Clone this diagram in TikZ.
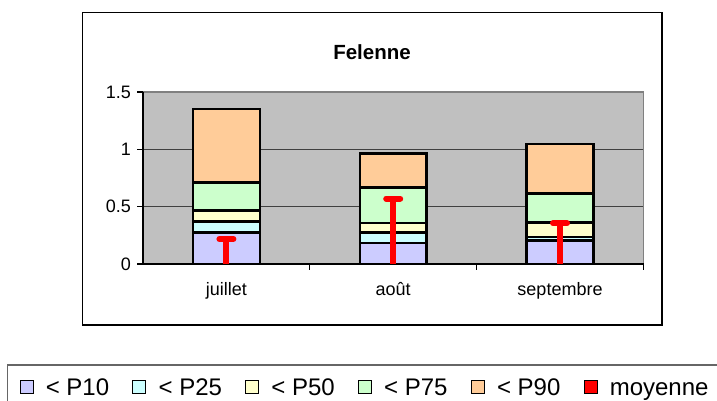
\documentclass[tikz,border=0pt]{standalone}
\usepackage{fontspec}
\setmainfont{Liberation Sans}

\definecolor{plotgray}{HTML}{C0C0C0}
\definecolor{pten}{HTML}{CCCCFF}
\definecolor{ptwentyfive}{HTML}{CCFFFF}
\definecolor{pfifty}{HTML}{FFFFCC}
\definecolor{pseventyfive}{HTML}{CCFFCC}
\definecolor{pninety}{HTML}{FFCC99}

\tikzset{
  seg/.style={draw=black, line width=2.5pt},
  meanline/.style={draw=red, line width=6pt},
  meancap/.style={draw=red, line width=6pt, line cap=round},
  axislabel/.style={font=\fontsize{18}{20}\selectfont, inner sep=0pt},
  legendlabel/.style={font=\fontsize{24}{26}\selectfont, anchor=base west, inner sep=0pt},
  legendkey/.style={draw=black, line width=1pt, minimum size=13pt, inner sep=0pt},
}

\begin{document}
\begin{tikzpicture}[x=1pt, y=1pt]
        \useasboundingbox (0,0) rectangle (717,401);

        % Chart frame and title
        \draw[line width=1.5pt] (82.5,76) rectangle (662,388.3);
        \node (title) at (372,349) [font=\bfseries\fontsize{20.5}{23}\selectfont] {Felenne};

        % Plot area (x in px, y in data units)
        \begin{scope}[shift={(143,137)}, y=114.67pt]
        \fill[plotgray] (0,0) rectangle (500.5,1.5);
        \draw[black!75, line width=1pt] (0,0.5) -- (500.5,0.5);
        \draw[black!75, line width=1pt] (0,1) -- (500.5,1);
        \draw[gray, line width=1.5pt] (0,1.5) -- (500.5,1.5) -- (500.5,0);
        \draw[line width=1.5pt] (0,1.5) -- (0,0) -- (500.5,0);

        % Ticks
        \draw[line width=1.2pt] (0,0) -- ++(-6pt,0pt);
        \draw[line width=1.2pt] (0,0.5) -- ++(-6pt,0pt);
        \draw[line width=1.2pt] (0,1) -- ++(-6pt,0pt);
        \draw[line width=1.2pt] (0,1.5) -- ++(-6pt,0pt);
        \draw[line width=1.2pt] (166.8,0) -- ++(0pt,-6pt);
        \draw[line width=1.2pt] (333.7,0) -- ++(0pt,-6pt);
        \draw[line width=1.2pt] (500.5,0) -- ++(0pt,-6pt);

        % Axis labels
        \node (yzero) at (-12,0) [axislabel, anchor=east] {0};
        \node (yhalf) at (-12,0.5) [axislabel, anchor=east] {0.5};
        \node (yone) at (-12,1) [axislabel, anchor=east] {1};
        \node (yonehalf) at (-12,1.5) [axislabel, anchor=east] {1.5};
        \node (juillet) at (83.4,0) [axislabel, anchor=base, yshift=-32pt] {juillet};
        \node (aout) at (250.2,0) [axislabel, anchor=base, yshift=-32pt] {août};
        \node (septembre) at (417,0) [axislabel, anchor=base, yshift=-32pt] {septembre};

        % Bars: juillet
        \draw[seg, fill=pten] (50,0) rectangle (116.8,0.276);
        \draw[seg, fill=ptwentyfive] (50,0.276) rectangle (116.8,0.37);
        \draw[seg, fill=pfifty] (50,0.37) rectangle (116.8,0.467);
        \draw[seg, fill=pseventyfive] (50,0.467) rectangle (116.8,0.71);
        \draw[seg, fill=pninety] (50,0.71) rectangle (116.8,1.353);
        % Bars: aout
        \draw[seg, fill=pten] (216.8,0) rectangle (283.6,0.183);
        \draw[seg, fill=ptwentyfive] (216.8,0.183) rectangle (283.6,0.276);
        \draw[seg, fill=pfifty] (216.8,0.276) rectangle (283.6,0.358);
        \draw[seg, fill=pseventyfive] (216.8,0.358) rectangle (283.6,0.667);
        \draw[seg, fill=pninety] (216.8,0.667) rectangle (283.6,0.963);
        % Bars: septembre
        \draw[seg, fill=pten] (383.6,0) rectangle (450.4,0.203);
        \draw[seg, fill=ptwentyfive] (383.6,0.203) rectangle (450.4,0.235);
        \draw[seg, fill=pfifty] (383.6,0.235) rectangle (450.4,0.364);
        \draw[seg, fill=pseventyfive] (383.6,0.364) rectangle (450.4,0.614);
        \draw[seg, fill=pninety] (383.6,0.614) rectangle (450.4,1.045);

        % Means
        \draw[meanline] (83.4,0) -- (83.4,0.218);
        \draw[meancap] (76.4,0.218) -- (90.4,0.218);
        \draw[meanline] (250.2,0) -- (250.2,0.571);
        \draw[meancap] (243.2,0.571) -- (257.2,0.571);
        \draw[meanline] (417,0) -- (417,0.356);
        \draw[meancap] (410,0.356) -- (424,0.356);
        \end{scope}

        % Legend
        \draw[gray!80!black, line width=1.5pt] (7.3,0) -- (7.3,36) -- (717,36);
        \node (kten) at (26.6,14) [legendkey, fill=pten] {};
        \node (lten) at (45.6,5.5) [legendlabel] {< P10};
        \node (ktwentyfive) at (139.4,14) [legendkey, fill=ptwentyfive] {};
        \node (ltwentyfive) at (158.4,5.5) [legendlabel] {< P25};
        \node (kfifty) at (252.2,14) [legendkey, fill=pfifty] {};
        \node (lfifty) at (271.2,5.5) [legendlabel] {< P50};
        \node (kseventyfive) at (365,14) [legendkey, fill=pseventyfive] {};
        \node (lseventyfive) at (384,5.5) [legendlabel] {< P75};
        \node (kninety) at (477.8,14) [legendkey, fill=pninety] {};
        \node (lninety) at (496.8,5.5) [legendlabel] {< P90};
        \node (kmean) at (590.6,14) [legendkey, fill=red] {};
        \node (lmean) at (609.6,5.5) [legendlabel] {moyenne};
    \end{tikzpicture}
\end{document}
